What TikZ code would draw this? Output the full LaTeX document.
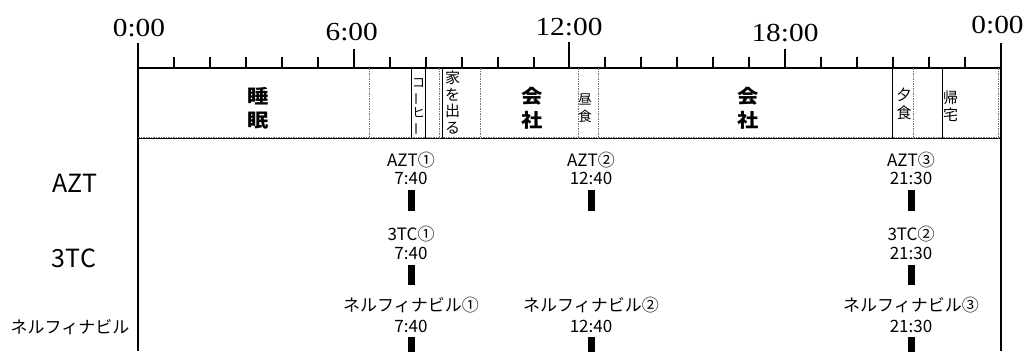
\documentclass[tikz,border=0pt]{standalone}
\usepackage{fontspec}
\usepackage{graphicx}
\newfontfamily\jp{Noto Sans CJK JP}
\newfontfamily\hourfont{Liberation Serif}
\newcommand{\vbar}{\rotatebox[origin=c]{90}{ー}}
\begin{document}
\begin{tikzpicture}[x=1pt,y=-1pt,
  axisline/.style={line width=2pt},
  solidsep/.style={line width=1pt},
  dashsep/.style={line width=0.8pt, black!55, dash pattern=on 1.5pt off 1pt},
  hourlbl/.style={font=\hourfont\fontsize{26}{30}\selectfont, anchor=base, inner sep=0pt},
  bandtxt/.style={font=\jp\bfseries\fontsize{19}{24}\selectfont, align=center, inner sep=0pt},
  smalltxt/.style={font=\jp\fontsize{13.5}{17}\selectfont, align=center, inner sep=0pt},
  rowlbl/.style={font=\jp\fontsize{25}{28}\selectfont, anchor=base, inner sep=0pt},
  marklbl/.style={font=\jp\fontsize{17}{20}\selectfont, anchor=base, inner sep=0pt},
  dosebar/.style={fill=black, draw=none, minimum width=7pt, minimum height=21pt, inner sep=0pt, anchor=north}
]
\useasboundingbox (0,0) rectangle (1027,351);
\fill[white] (0,0) rectangle (1027,351);

% hour labels
\node[hourlbl] (h0)  at (139,36)   {\scalebox{1.13}[1]{0:00}};
\node[hourlbl] (h6)  at (351.7,40) {\scalebox{1.13}[1]{6:00}};
\node[hourlbl] (h12) at (569,35)   {\scalebox{1.13}[1]{12:00}};
\node[hourlbl] (h18) at (785,41.5) {\scalebox{1.13}[1]{18:00}};
\node[hourlbl] (h24) at (997.5,33) {\scalebox{1.13}[1]{0:00}};

% axis
\coordinate (TL) at (138.3,68.3);
\coordinate (TR) at (1000.7,68.3);
\draw[axisline] (138.3,43) -- (138.3,351);
\draw[axisline] (1000.7,43) -- (1000.7,351);
\draw[axisline] (TL) -- (TR);
\foreach \h in {1,2,3,4,5,7,8,9,10,11,13,14,15,16,17,19,20,21,22,23}
  \draw[axisline] ({138.3+\h*35.93},56.5) -- ({138.3+\h*35.93},68.3);
\foreach \h in {6,18}
  \draw[axisline] ({138.3+\h*35.93},48.5) -- ({138.3+\h*35.93},68.3);
\draw[axisline] ({138.3+12*35.93},41.7) -- ({138.3+12*35.93},68.3);

% band bottom
\draw[dashsep] (138.3,137.2) -- (1000.7,137.2);
\draw[line width=1pt] (138.3,138.7) -- (1000.7,138.7);

% band separators
\foreach \x in {369.3,439.3,480,578.3,598.3,913,998.3}
  \draw[dashsep] (\x,68.3) -- (\x,138.7);
\foreach \x in {411.5,425.5,442,892.5,942}
  \draw[solidsep] (\x,68.3) -- (\x,138.7);

% band texts
\node[bandtxt] (sleep) at (258,108) {\scalebox{1.12}[1]{睡}\\\scalebox{1.12}[1]{眠}};
\node[bandtxt] (work1) at (532,108) {\scalebox{1.12}[1]{会}\\\scalebox{1.12}[1]{社}};
\node[bandtxt] (work2) at (748,108) {\scalebox{1.12}[1]{会}\\\scalebox{1.12}[1]{社}};
\node[smalltxt, font=\jp\fontsize{13}{15}\selectfont] (coffee) at (418.5,107) {コ\\\vbar\\ヒ\\\vbar};
\node[smalltxt, font=\jp\fontsize{15}{16.5}\selectfont] (leave) at (452.5,102.5) {家\\を\\出\\る};
\node[smalltxt] (lunch) at (585,108) {昼\\食};
\node[smalltxt, font=\jp\fontsize{15}{18}\selectfont] (dinner) at (904,104) {夕\\食};
\node[smalltxt, font=\jp\fontsize{15}{17}\selectfont] (home) at (950.5,106) {帰\\宅};

% row labels
\node[rowlbl] (rAZT) at (75,192) {AZT};
\node[rowlbl] (r3TC) at (74,267) {3TC};
\node[rowlbl, font=\jp\fontsize{17}{20}\selectfont] (rNEL) at (70,333) {ネルフィナビル};

% AZT
\node[marklbl] (a1) at (411,166.5) {AZT①};
\node[marklbl] (a1t) at (411,184) {7:40};
\node[dosebar] (a1b) at (411,190) {};
\node[marklbl] (a2) at (591,166.5) {AZT②};
\node[marklbl] (a2t) at (591,184) {12:40};
\node[dosebar] (a2b) at (591,190) {};
\node[marklbl] (a3) at (911,166.5) {AZT③};
\node[marklbl] (a3t) at (911,184) {21:30};
\node[dosebar] (a3b) at (911,190) {};

% 3TC
\node[marklbl] (t1) at (411,240.5) {3TC①};
\node[marklbl] (t1t) at (411,259) {7:40};
\node[dosebar, minimum height=20pt] (t1b) at (411,265) {};
\node[marklbl] (t2) at (911,240.5) {3TC②};
\node[marklbl] (t2t) at (911,259) {21:30};
\node[dosebar, minimum height=20pt] (t2b) at (911,265) {};

% Nelfinavir
\node[marklbl] (n1) at (411,311) {ネルフィナビル①};
\node[marklbl] (n1t) at (411,332) {7:40};
\node[dosebar, minimum height=16pt] (n1b) at (411,337) {};
\node[marklbl] (n2) at (591,311) {ネルフィナビル②};
\node[marklbl] (n2t) at (591,332) {12:40};
\node[dosebar, minimum height=16pt] (n2b) at (591,337) {};
\node[marklbl] (n3) at (911,311) {ネルフィナビル③};
\node[marklbl] (n3t) at (911,332) {21:30};
\node[dosebar, minimum height=16pt] (n3b) at (911,337) {};
\end{tikzpicture}
\end{document}
